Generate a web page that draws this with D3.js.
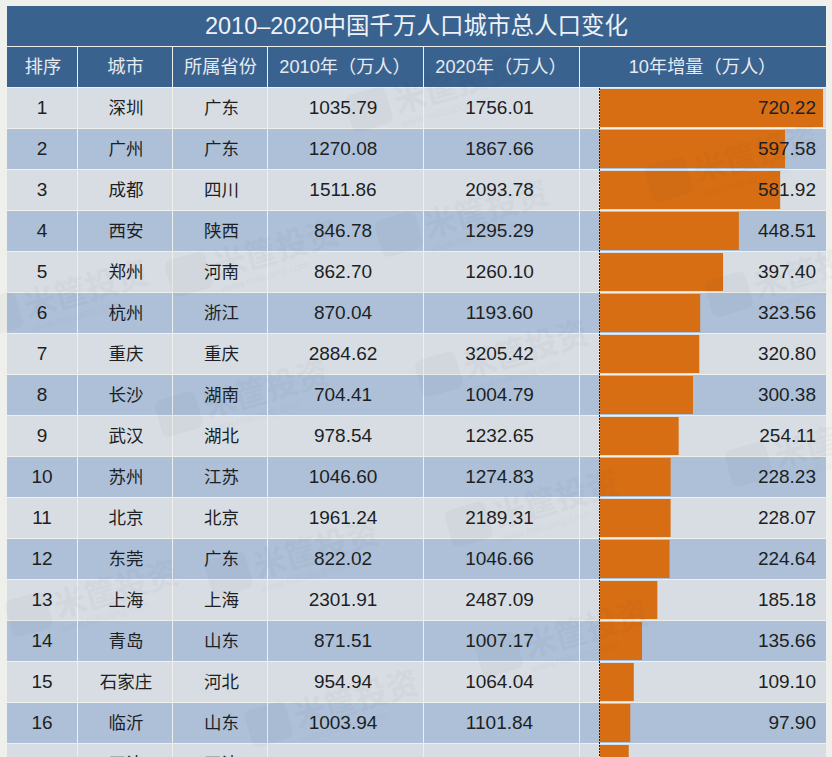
<!DOCTYPE html>
<html>
<head>
<meta charset="utf-8">
<script src="https://cdn.jsdelivr.net/npm/d3@7"></script>
<style>
html,body{margin:0;padding:0;background:#efefec;overflow:hidden}
text{font-family:"Liberation Sans","Noto Sans CJK SC",sans-serif}
</style>
</head>
<body>
<div id="chart"></div>
<script>
var title="2010–2020中国千万人口城市总人口变化"
var headers=["排序","城市","所属省份","2010年（万人）","2020年（万人）","10年增量（万人）"]
var ranks=[1,2,3,4,5,6,7,8,9,10,11,12,13,14,15,16,17]
var cities=["深圳","广州","成都","西安","郑州","杭州","重庆","长沙","武汉","苏州","北京","东莞","上海","青岛","石家庄","临沂","天津"]
var provinces=["广东","广东","四川","陕西","河南","浙江","重庆","湖南","湖北","江苏","北京","广东","上海","山东","河北","山东","天津"]
var pop2010=["1035.79","1270.08","1511.86","846.78","862.70","870.04","2884.62","704.41","978.54","1046.60","1961.24","822.02","2301.91","871.51","954.94","1003.94","1293.82"]
var pop2020=["1756.01","1867.66","2093.78","1295.29","1260.10","1193.60","3205.42","1004.79","1232.65","1274.83","2189.31","1046.66","2487.09","1007.17","1064.04","1101.84","1386.60"]
var growth=["720.22","597.58","581.92","448.51","397.40","323.56","320.80","300.38","254.11","228.23","228.07","224.64","185.18","135.66","109.10","97.90","92.78"]

var width=832,height=757
var edges=[7,77,172,267,423,579,826]
var textNudge=[0,1.5,2,-2,-1.5]
var titleTop=6,headTop=47,rowTop=88,rowStep=41

var svg=d3.select("#chart").append("svg").attr("width",width).attr("height",height).style("display","block")

// row and bar scales
var y=d3.scaleBand().domain(ranks).range([rowTop,rowTop+rowStep*ranks.length]).paddingInner(0)
var x=d3.scaleLinear().domain([0,720.22]).range([600,823])

svg.append("rect").attr("x",edges[0]).attr("y",titleTop).attr("width",edges[6]-edges[0]).attr("height",40).attr("fill","#3a628f")
svg.append("text").attr("x",416.5).attr("y",34).attr("text-anchor","middle").attr("font-size",23.5).attr("fill","#eef2f6").text(title)

headers.forEach(function(h,i){
	svg.append("rect").attr("x",edges[i]+(i?1:0)).attr("y",headTop).attr("width",edges[i+1]-edges[i]-(i?1:0)).attr("height",40).attr("fill","#3a628f")
	svg.append("text").attr("x",(edges[i]+edges[i+1])/2+(i<3?1:0)).attr("y",73).attr("text-anchor","middle").attr("font-size",18.2).attr("fill","#e6ebf2").text(h)
})

var rows=svg.selectAll("g.row").data(ranks).enter().append("g").attr("class","row")
	.attr("transform",function(d){return "translate(0,"+y(d)+")"})

rows.each(function(d,i){
	var g=d3.select(this)
	for(var c=0;c<6;c++){
		g.append("rect").attr("x",edges[c]+(c?1:0)).attr("y",0).attr("width",edges[c+1]-edges[c]-(c?1:0)).attr("height",rowStep-1)
			.attr("fill",i%2==0?"#d8dde4":"#adc0d8")
	}
	g.append("rect").attr("x",x(0)).attr("y",1).attr("width",x(+growth[i])-x(0)).attr("height",rowStep-3).attr("fill","#d76e14")
	var cells=[ranks[i],cities[i],provinces[i],pop2010[i],pop2020[i]]
	cells.forEach(function(t,c){
		g.append("text").attr("x",(edges[c]+edges[c+1])/2+textNudge[c]).attr("y",26).attr("text-anchor","middle")
			.attr("font-size",c==1||c==2?17.5:19).attr("fill","#1c1f24").text(t)
	})
	g.append("text").attr("x",816).attr("y",26).attr("text-anchor","end").attr("font-size",19).attr("fill","#1c1f24").text(growth[i])
})

// dashed zero line of the bars
svg.append("line").attr("x1",x(0)-.5).attr("x2",x(0)-.5).attr("y1",rowTop).attr("y2",height)
	.attr("stroke","#222").attr("stroke-width",1).attr("stroke-dasharray","2,1")

// faint watermark
var markX=[400,190,0,440,180,670,730,750,470,230,30,500,270,370]
var markY=[235,275,315,375,415,180,295,465,525,575,615,655,725,110]
var marks=svg.append("g").attr("opacity",.035)
markX.forEach(function(mx,i){
	var m=marks.append("g").attr("transform","translate("+mx+","+markY[i]+") rotate(-16)")
	m.append("rect").attr("x",-22).attr("y",-20).attr("width",42).attr("height",38).attr("rx",7).attr("fill","#333")
	m.append("text").attr("x",26).attr("y",10).attr("font-size",32).attr("font-weight","bold").attr("fill","#333").text("米筐投资")
	m.append("text").attr("x",26).attr("y",26).attr("font-size",11).attr("fill","#333").text("www.mikuang.com")
})
</script>
</body>
</html>
